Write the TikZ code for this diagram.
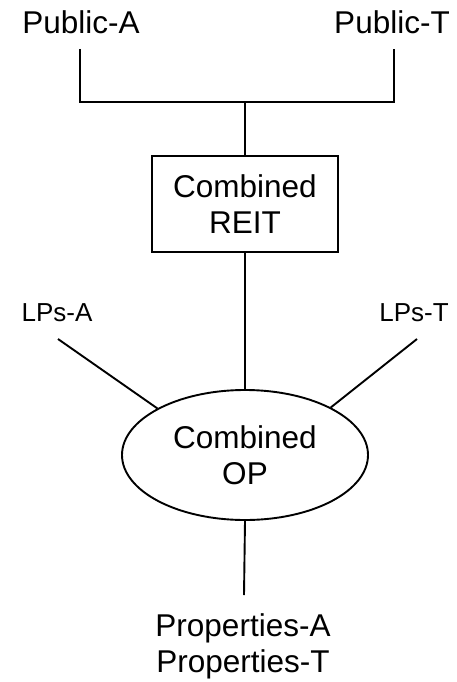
\documentclass[tikz,border=0pt]{standalone}
\usepackage{fontspec}
\setmainfont{Liberation Sans}
\usetikzlibrary{shapes.geometric}
\begin{document}
\begin{tikzpicture}[x=1pt,y=-1pt,
  link/.style={line width=1.9pt},
  bigtext/.style={font=\fontsize{31.5}{36}\selectfont, inner sep=0pt, align=center},
  smalltext/.style={font=\fontsize{26}{30}\selectfont, inner sep=0pt},
  entity/.style={draw, line width=1.9pt, bigtext, minimum width=186pt, minimum height=96pt},
  partnership/.style={draw, ellipse, line width=1.9pt, bigtext, minimum width=246pt, minimum height=130pt}]
  \useasboundingbox (0,0) rectangle (456,682);

  % shareholders
  \node[bigtext] (pubA) at (81,22) {Public-A};
  \node[bigtext] (pubT) at (392,22) {Public-T};
  \coordinate (pubAfoot) at (80,49);
  \coordinate (pubTfoot) at (394,49);
  \coordinate (join) at (245,102);

  % combined REIT and operating partnership
  \node[entity] (reit) at (245,204) {Combined\\REIT};
  \node[partnership] (op) at (245,455) {Combined\\OP};

  % limited partners
  \node[smalltext] (lpsA) at (57,313) {LPs-A};
  \node[smalltext] (lpsT) at (414,313) {LPs-T};
  \coordinate (lpsAfoot) at (58,339);
  \coordinate (lpsTfoot) at (417,339);

  % properties
  \node[bigtext] (props) at (243,646) {Properties-A\\Properties-T};
  \coordinate (propstop) at (244,595);

  \draw[link] (pubAfoot) |- (join) -| (pubTfoot);
  \draw[link] (join) -- (reit.north);
  \draw[link] (reit.south) -- (op.north);
  \draw[link] (lpsAfoot) -- (op.152);
  \draw[link] (lpsTfoot) -- (op.29);
  \draw[link] (op.south) -- (propstop);
\end{tikzpicture}
\end{document}
